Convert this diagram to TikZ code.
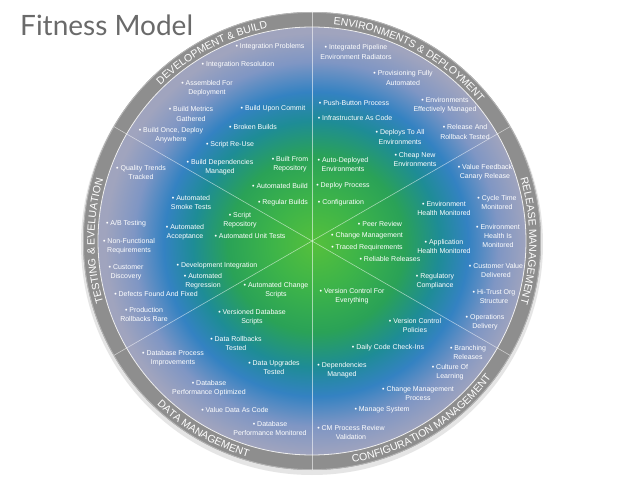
\documentclass[tikz,border=0pt]{standalone}
\usepackage{fontspec}
\setmainfont{Liberation Sans}
\newfontfamily\titlefont{Lato}
\usetikzlibrary{decorations.text}
\definecolor{fitlime}{HTML}{55C03C}
\definecolor{fitleaf}{HTML}{3DB449}
\definecolor{fitgreen}{HTML}{2AA257}
\definecolor{fitteal}{HTML}{1E8C96}
\definecolor{fitblue}{HTML}{3482C2}
\definecolor{fitmist}{HTML}{7F96C4}
\definecolor{fitlav}{HTML}{A0A4BE}
\definecolor{fitring}{HTML}{8E8E8E}
\definecolor{fitedge}{HTML}{B4B4B4}
\definecolor{fittitle}{HTML}{6A6A6A}
\pgfdeclareradialshading{fitglow}{\pgfpoint{0bp}{0bp}}{color(0bp)=(fitlime); color(5.2bp)=(fitleaf); color(10.3bp)=(fitgreen); color(14.4bp)=(fitteal); color(17.8bp)=(fitblue); color(21.3bp)=(fitmist); color(24.7bp)=(fitlav); color(50bp)=(fitlav)}
\newcommand{\fitdot}{\textbullet\ }
\newcommand{\ringfont}{\fontsize{10.5}{12}\selectfont}

\begin{document}
\begin{tikzpicture}[
    x=1pt, y=1pt,
    item/.style={text=white, font=\fontsize{7}{9}\selectfont, align=center, inner sep=0pt},
    ringlabel/.style={decorate, decoration={text along path, text align=center, text color=white, text={|\ringfont|#1}}},
    divider/.style={white, opacity=0.55, line width=0.6pt}
]
\useasboundingbox (-312,-238) rectangle (326,241);
\fill[white] (-312,-238) rectangle (326,241);

\fill[black!10] (0,-3) circle (231);
\fill[fitring] (0,0) circle (229);
\draw[fitedge, line width=0.8pt] (0,0) circle (228.6);
\fill[fitlav] (0,0) circle (214);
\begin{scope}
\clip (0,0) circle (214);
\shade[shading=fitglow] (4,-3) circle (214);
\end{scope}
\draw[white!85!fitring, line width=0.8pt] (0,0) circle (214);

\draw[divider] (90:229) -- (270:229);
\draw[divider] (30:229) -- (210:229);
\draw[divider] (-30:229) -- (150:229);

\path[ringlabel={DEVELOPMENT {\&} BUILD}] (158:217.5) arc[start angle=158, end angle=78, radius=217.5];
\path[ringlabel={ENVIRONMENTS {\&} DEPLOYMENT}] (102:217.5) arc[start angle=102, end angle=22, radius=217.5];
\path[ringlabel={RELEASE MANAGEMENT}] (40:217.5) arc[start angle=40, end angle=-40, radius=217.5];
\path[ringlabel={TESTING {\&} EVELUATION}] (220:217.5) arc[start angle=220, end angle=140, radius=217.5];
\path[ringlabel={DATA MANAGEMENT}] (200:225.5) arc[start angle=200, end angle=280, radius=225.5];
\path[ringlabel={CONFIGURATION MANAGEMENT}] (-98.5:225.5) arc[start angle=-98.5, end angle=-18.5, radius=225.5];

\node[font=\titlefont\fontsize{28}{28}\selectfont, text=fittitle, anchor=base west, inner sep=0pt] (title) at (-292,205) {Fitness Model};

\node[item] (dev1) at (-42,194) {\fitdot Integration Problems};
\node[item] (dev2) at (-74,176) {\fitdot Integration Resolution};
\node[item] (dev3) at (-105,153) {\fitdot Assembled For\\Deployment};
\node[item] (dev4) at (-121,127) {\fitdot Build Metrics\\Gathered};
\node[item] (dev5) at (-39,132) {\fitdot Build Upon Commit};
\node[item] (dev6) at (-141,106) {\fitdot Build Once, Deploy\\Anywhere};
\node[item] (dev7) at (-59,114) {\fitdot Broken Builds};
\node[item] (dev8) at (-82,96) {\fitdot Script Re-Use};
\node[item] (dev9) at (-92,74) {\fitdot Build Dependencies\\Managed};
\node[item] (dev10) at (-22,77) {\fitdot Built From\\Repository};
\node[item] (dev11) at (-32,55) {\fitdot Automated Build};
\node[item] (dev12) at (-29,38) {\fitdot Regular Builds};

\node[item] (tst1) at (-72,21) {\fitdot Script\\Repository};
\node[item] (tst2) at (-62,5) {\fitdot Automated Unit Tests};
\node[item] (tst3) at (-171,69) {\fitdot Quality Trends\\Tracked};
\node[item] (tst4) at (-121,39) {\fitdot Automated\\Smoke Tests};
\node[item] (tst5) at (-186,17) {\fitdot A/B Testing};
\node[item] (tst6) at (-127,9) {\fitdot Automated\\Acceptance};
\node[item] (tst7) at (-183,-5) {\fitdot Non-Functional\\Requirements};
\node[item] (tst8) at (-186,-31) {\fitdot Customer\\Discovery};
\node[item] (tst9) at (-95,-25) {\fitdot Development Integration};
\node[item] (tst10) at (-109,-40) {\fitdot Automated\\Regression};
\node[item] (tst11) at (-156,-53) {\fitdot Defects Found And Fixed};
\node[item] (tst12) at (-168,-73) {\fitdot Production\\Rollbacks Rare};

\node[item] (dat1) at (-36,-49) {\fitdot Automated Change\\Scripts};
\node[item] (dat2) at (-60,-76) {\fitdot Versioned Database\\Scripts};
\node[item] (dat3) at (-76,-102) {\fitdot Data Rollbacks\\Tested};
\node[item] (dat4) at (-139,-117) {\fitdot Database Process\\Improvements};
\node[item] (dat5) at (-38,-126) {\fitdot Data Upgrades\\Tested};
\node[item] (dat6) at (-103,-147) {\fitdot Database\\Performance Optimized};
\node[item] (dat7) at (-77,-169) {\fitdot Value Data As Code};
\node[item] (dat8) at (-42,-187) {\fitdot Database\\Performance Monitored};

\node[item] (cfg1) at (40,-55) {\fitdot Version Control For\\Everything};
\node[item] (cfg2) at (103,-84) {\fitdot Version Control\\Policies};
\node[item] (cfg3) at (76,-107) {\fitdot Daily Code Check-Ins};
\node[item] (cfg4) at (156,-111) {\fitdot Branching\\Releases};
\node[item] (cfg5) at (30,-129) {\fitdot Dependencies\\Managed};
\node[item] (cfg6) at (138,-131) {\fitdot Culture Of\\Learning};
\node[item] (cfg7) at (106,-152) {\fitdot Change Management\\Process};
\node[item] (cfg8) at (70,-169) {\fitdot Manage System};
\node[item] (cfg9) at (39,-191) {\fitdot CM Process Review\\Validation};

\node[item] (rel1) at (173,69) {\fitdot Value Feedback\\Canary Release};
\node[item] (rel2) at (185,39) {\fitdot Cycle Time\\Monitored};
\node[item] (rel3) at (132,33) {\fitdot Environment\\Health Monitored};
\node[item] (rel4) at (186,5) {\fitdot Environment\\Health Is\\Monitored};
\node[item] (rel5) at (132,-5) {\fitdot Application\\Health Monitored};
\node[item] (rel6) at (184,-29) {\fitdot Customer Value\\Delivered};
\node[item] (rel7) at (182,-55) {\fitdot Hi-Trust Org\\Structure};
\node[item] (rel8) at (173,-81) {\fitdot Operations\\Delivery};
\node[item] (rel9) at (123,-40) {\fitdot Regulatory\\Compliance};
\node[item] (rel10) at (68,17) {\fitdot Peer Review};
\node[item] (rel11) at (55,5) {\fitdot Change Management};
\node[item] (rel12) at (55,-7) {\fitdot Traced Requirements};
\node[item] (rel13) at (78,-18) {\fitdot Reliable Releases};

\node[item] (env1) at (44,189) {\fitdot Integrated Pipeline\\Environment Radiators};
\node[item] (env2) at (91,163) {\fitdot Provisioning Fully\\Automated};
\node[item] (env3) at (42,138) {\fitdot Push-Button Process};
\node[item] (env4) at (133,136) {\fitdot Environments\\Effectively Managed};
\node[item] (env5) at (43,123) {\fitdot Infrastructure As Code};
\node[item] (env6) at (88,104) {\fitdot Deploys To All\\Environments};
\node[item] (env7) at (153,109) {\fitdot Release And\\Rollback Tested};
\node[item] (env8) at (103,81) {\fitdot Cheap New\\Environments};
\node[item] (env9) at (31,77) {\fitdot Auto-Deployed\\Environments};
\node[item] (env10) at (31,55) {\fitdot Deploy Process};
\node[item] (env11) at (29,38) {\fitdot Configuration};
\end{tikzpicture}
\end{document}
